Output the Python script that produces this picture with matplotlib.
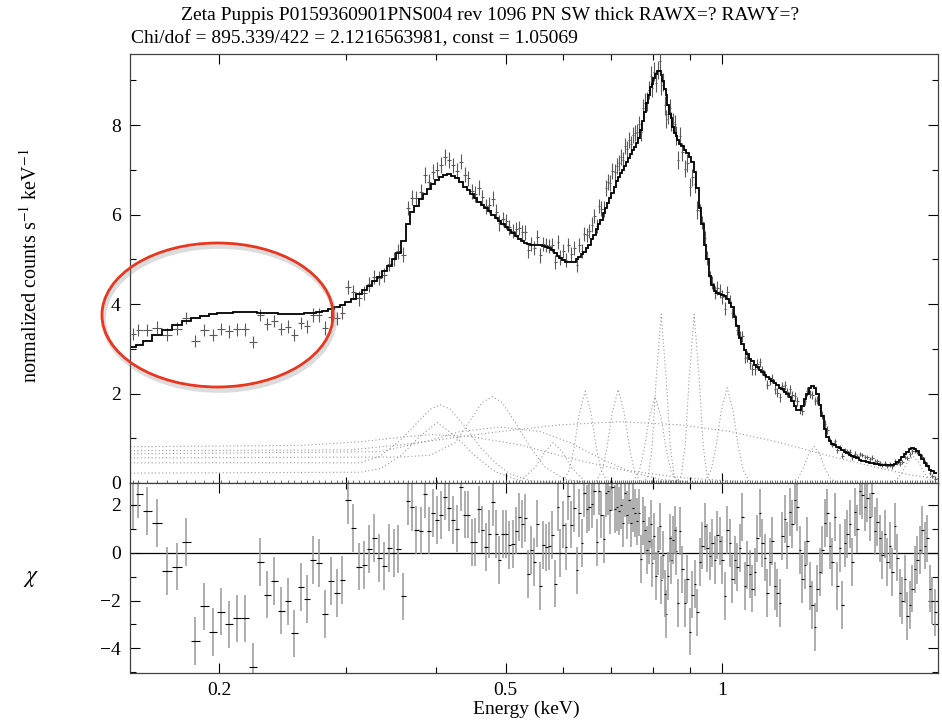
import numpy as np
import matplotlib
matplotlib.use("Agg")
import matplotlib.pyplot as plt
from matplotlib.patches import Ellipse
from matplotlib.ticker import FixedLocator, NullFormatter, FuncFormatter, MultipleLocator

plt.rcParams["font.family"] = ["Liberation Serif", "DejaVu Serif"]
plt.rcParams["mathtext.fontset"] = "stix"

TITLE = "Zeta Puppis P0159360901PNS004 rev 1096 PN SW thick RAWX=? RAWY=?"
SUBTITLE = "Chi/dof = 895.339/422 = 2.1216563981, const = 1.05069"

# ── spectrum ─────────────────────────────────────────────────────────────────
# bin centre (keV), folded model (counts/s/keV), residual (chi), 1-sigma error
energy_soft = [0.1518, 0.1543, 0.1588, 0.1639, 0.1693, 0.1748, 0.1799, 0.1852, 0.1906, 0.1962,
               0.2012, 0.2064, 0.2119, 0.2173, 0.2229, 0.2280, 0.2332, 0.2384, 0.2438, 0.2493,
               0.2541, 0.2599, 0.2649, 0.2701, 0.2753, 0.2807, 0.2860, 0.2916, 0.2963, 0.3021,
               0.3069, 0.3129, 0.3179, 0.3231, 0.3283, 0.3335, 0.3389, 0.3444, 0.3499, 0.3544,
               0.3601, 0.3659]
model_soft = [3.05, 3.08, 3.18, 3.30, 3.42, 3.53, 3.62, 3.69, 3.74, 3.77,
              3.79, 3.81, 3.82, 3.82, 3.82, 3.81, 3.80, 3.79, 3.78, 3.78,
              3.78, 3.78, 3.79, 3.80, 3.82, 3.85, 3.89, 3.93, 3.98, 4.05,
              4.12, 4.22, 4.32, 4.41, 4.51, 4.61, 4.73, 4.86, 5.00, 5.15,
              5.40, 5.80]
chi_soft = [2.00, 2.46, 1.75, 1.25, -0.75, -0.58, 0.46, -3.71, -2.25, -3.33,
            -2.46, -3.00, -2.75, -2.75, -4.79, -0.38, -1.75, -1.17, -2.42, -2.04,
            -3.38, -1.42, -1.92, -0.29, -0.42, -2.58, -1.17, -1.67, -1.13, 2.21,
            1.04, -0.58, -0.50, 0.17, 0.63, -0.21, -0.54, 0.21, 0.00, 0.17,
            -1.83, 2.17]
sigma_soft = [0.14] * 22 + [0.15] * 9 + [0.16] * 11

energy_mid = [0.3707, 0.3754, 0.3815, 0.3864, 0.3913, 0.3964, 0.4014, 0.4067, 0.4120, 0.4173,
              0.4226, 0.4281, 0.4336, 0.4392, 0.4433, 0.4491, 0.4534, 0.4592, 0.4637, 0.4696,
              0.4742, 0.4803, 0.4849, 0.4895, 0.4958, 0.5006, 0.5055, 0.5120, 0.5169, 0.5219,
              0.5270, 0.5321, 0.5371, 0.5423, 0.5476, 0.5528, 0.5582, 0.5636, 0.5690, 0.5745,
              0.5800, 0.5856, 0.5913, 0.5951, 0.6008, 0.6066, 0.6105, 0.6164, 0.6223, 0.6283,
              0.6324, 0.6385, 0.6426, 0.6488, 0.6529, 0.6592, 0.6634, 0.6698, 0.6741, 0.6785,
              0.6850, 0.6894, 0.6938, 0.6983, 0.7028, 0.7096, 0.7141, 0.7187, 0.7233, 0.7279,
              0.7326, 0.7373, 0.7420, 0.7468, 0.7516, 0.7564, 0.7612, 0.7661, 0.7711, 0.7760,
              0.7810, 0.7860, 0.7911, 0.7961, 0.7987, 0.8038, 0.8090, 0.8142, 0.8194, 0.8220,
              0.8273, 0.8326, 0.8352, 0.8406, 0.8460, 0.8487, 0.8541, 0.8596, 0.8624, 0.8679]
model_mid = [6.05, 6.20, 6.35, 6.47, 6.58, 6.68, 6.77, 6.84, 6.89, 6.90,
             6.87, 6.81, 6.72, 6.62, 6.54, 6.45, 6.38, 6.29, 6.22, 6.14,
             6.08, 6.00, 5.93, 5.86, 5.78, 5.72, 5.66, 5.58, 5.52, 5.46,
             5.41, 5.37, 5.34, 5.32, 5.31, 5.31, 5.31, 5.30, 5.28, 5.25,
             5.20, 5.14, 5.08, 5.04, 4.99, 4.95, 4.93, 4.93, 4.95, 5.00,
             5.05, 5.12, 5.17, 5.25, 5.32, 5.45, 5.55, 5.68, 5.78, 5.88,
             6.03, 6.15, 6.27, 6.38, 6.48, 6.62, 6.74, 6.84, 6.92, 7.00,
             7.08, 7.18, 7.27, 7.36, 7.45, 7.52, 7.60, 7.72, 7.90, 8.10,
             8.30, 8.50, 8.68, 8.85, 8.93, 9.05, 9.15, 9.22, 9.20, 9.13,
             8.98, 8.80, 8.68, 8.45, 8.25, 8.15, 7.95, 7.82, 7.76, 7.66]
chi_mid = [1.93, 0.96, 0.93, 2.44, 0.93, 1.65, 1.38, 1.57, 2.35, 1.89,
           1.38, 1.01, 2.74, 1.60, 1.60, 0.43, 0.46, 1.81, 0.97, 0.24,
           0.79, 2.11, 0.78, -0.29, 0.78, 0.79, 0.33, 0.35, 0.93, 1.49,
           1.19, 1.44, -0.88, 0.13, -0.38, 1.22, -1.40, 0.31, 0.22, 0.29,
           0.75, -1.29, 1.90, -0.01, 1.18, 0.26, 2.39, 1.18, 1.86, -0.74,
           1.65, 0.40, 2.49, 1.82, 1.93, 2.04, 2.60, 0.43, 2.60, 1.60,
           0.57, 2.49, 2.60, 1.79, 2.76, 1.82, 1.90, 1.76, 2.00, 1.26,
           2.49, 1.58, 2.21, 1.24, 1.86, 1.65, 1.31, 1.68, -0.26, 1.32,
           0.96, 0.13, 0.51, 1.21, -0.43, 0.68, -0.99, 0.06, 1.10, -1.13,
           -0.08, -1.71, -2.58, -0.99, 0.61, -0.29, 0.54, 0.96, 0.06, -2.10]
sigma_mid = [0.17] * 24 + [0.16] * 36 + [0.18] * 18 + [0.21] * 22

energy_hard = [0.8735, 0.8791, 0.8876, 0.8933, 0.9019, 0.9077, 0.9164, 0.9223, 0.9312, 0.9372,
               0.9462, 0.9523, 0.9614, 0.9676, 0.9769, 0.9832, 0.9927, 0.9991, 1.0087, 1.0152,
               1.0249, 1.0315, 1.0414, 1.0481, 1.0583, 1.0651, 1.0753, 1.0822, 1.0926, 1.0996,
               1.1102, 1.1173, 1.1282, 1.1354, 1.1463, 1.1537, 1.1648, 1.1723, 1.1836, 1.1912,
               1.2026, 1.2103, 1.2220, 1.2298, 1.2417, 1.2497, 1.2617, 1.2698, 1.2820, 1.2902,
               1.3026, 1.3110, 1.3237, 1.3322, 1.3450, 1.3536, 1.3667, 1.3754, 1.3887, 1.3976,
               1.4111, 1.4201, 1.4338, 1.4430, 1.4570, 1.4663, 1.4804, 1.4899, 1.5043, 1.5139,
               1.5285, 1.5383, 1.5532, 1.5631, 1.5782, 1.5883, 1.6036, 1.6139, 1.6294, 1.6398,
               1.6558, 1.6664, 1.6824, 1.6932, 1.7096, 1.7205, 1.7371, 1.7482, 1.7651, 1.7764,
               1.7935, 1.8050, 1.8225, 1.8341, 1.8519, 1.8637, 1.8817, 1.8938, 1.9121, 1.9243,
               1.9428, 1.9553, 1.9740]
model_hard = [7.58, 7.53, 7.45, 7.38, 7.28, 7.18, 6.95, 6.60, 6.15, 5.78,
              5.32, 5.00, 4.62, 4.42, 4.30, 4.25, 4.22, 4.20, 4.17, 4.12,
              4.03, 3.93, 3.70, 3.50, 3.25, 3.10, 2.97, 2.88, 2.78, 2.72,
              2.64, 2.59, 2.53, 2.48, 2.42, 2.37, 2.32, 2.28, 2.23, 2.19,
              2.13, 2.09, 2.04, 2.00, 1.92, 1.84, 1.72, 1.64, 1.64, 1.72,
              1.88, 2.00, 2.12, 2.17, 2.12, 2.00, 1.75, 1.50, 1.20, 1.03,
              0.93, 0.88, 0.84, 0.81, 0.78, 0.74, 0.70, 0.66, 0.62, 0.60,
              0.57, 0.55, 0.52, 0.50, 0.48, 0.47, 0.45, 0.44, 0.43, 0.42,
              0.41, 0.41, 0.40, 0.40, 0.40, 0.41, 0.43, 0.46, 0.52, 0.57,
              0.64, 0.69, 0.75, 0.78, 0.76, 0.71, 0.62, 0.54, 0.44, 0.38,
              0.30, 0.26, 0.22]
chi_hard = [0.90, -0.70, -2.10, -1.10, -3.30, -1.75, -1.30, -2.50, -0.40, 0.30,
            1.10, 0.20, -0.15, 0.40, -0.30, 0.75, 0.50, -0.30, -1.80, 0.95,
            0.40, -1.10, -0.30, -0.60, 0.20, 1.50, -1.40, -0.50, -0.90, -1.50,
            -0.80, 0.60, 1.65, 0.40, -0.20, -1.70, -0.40, 0.50, -1.40, -1.70,
            -2.10, 0.70, 1.40, 0.30, 1.70, 1.20, 2.20, 1.90, 0.10, -1.10,
            -0.50, 0.50, -1.40, -2.20, -3.10, -1.50, -0.80, 0.10, 1.25, 1.65,
            0.30, -0.40, 1.50, -1.40, 0.20, -2.20, 0.40, 0.80, 1.20, -0.40,
            1.70, 1.00, 2.60, 2.40, 1.90, 2.30, 1.50, 2.50, 0.90, 1.30,
            0.60, -0.10, 0.80, -0.40, 0.30, -0.80, 1.10, -0.20, -1.70, -2.00,
            -1.10, -2.65, -2.20, -1.50, -0.70, -0.30, 0.10, 0.96, 0.30, 0.60,
            -1.50, -2.00, -2.50]
sigma_hard = [0.20] * 8 + [0.15] * 12 + [0.12] * 12 + [0.10] * 18 + [0.09] * 10 + [0.06] * 10 + [0.05] * 33

# ── dotted model components (keV, counts/s/keV) ─────────────────────────────
comp_shelf_a = ([0.1504, 0.3139, 0.3346, 0.3567, 0.3742, 0.3926, 0.4054, 0.4186, 0.4392, 0.4607, 0.4834, 0.5071, 0.5406, 0.5951],
                [0.45, 0.45, 0.60, 0.95, 1.30, 1.65, 1.75, 1.65, 1.25, 0.80, 0.45, 0.20, 0.05, 0.00])
comp_shelf_b = ([0.1504, 0.3139, 0.3346, 0.3567, 0.3803, 0.4014, 0.4253, 0.4534, 0.4834, 0.5236],
                [0.22, 0.24, 0.32, 0.60, 1.05, 1.35, 1.05, 0.60, 0.25, 0.05])
comp_shelf_c = ([0.1504, 0.3567, 0.3926, 0.4253, 0.4462, 0.4637, 0.4788, 0.4942, 0.5153, 0.5406, 0.5672, 0.6047, 0.6550],
                [0.56, 0.58, 0.62, 0.90, 1.40, 1.80, 1.93, 1.80, 1.35, 0.80, 0.35, 0.08, 0.00])
comp_shelf_d = ([0.1504, 0.3346, 0.3926, 0.4322, 0.4911, 0.5582, 0.6144, 0.6763, 0.7444, 0.8194, 0.9312],
                [0.65, 0.70, 0.95, 1.15, 1.25, 1.15, 0.90, 0.55, 0.25, 0.08, 0.00])
comp_broad = ([0.1504, 0.3040, 0.3567, 0.4186, 0.4911, 0.5951, 0.7233, 0.8735, 1.0249, 1.2026, 1.4111, 1.6036, 1.8225, 1.9930],
              [0.72, 0.74, 0.85, 1.00, 1.15, 1.30, 1.37, 1.30, 1.15, 0.90, 0.60, 0.38, 0.18, 0.10])
comp_shelf_e = ([0.1504, 0.2591, 0.3139, 0.3567, 0.3926, 0.4462, 0.5236, 0.6144, 0.7210, 0.8735, 1.0583],
                [0.81, 0.84, 0.92, 1.02, 1.08, 1.04, 0.85, 0.55, 0.30, 0.12, 0.03])
comp_o7 = ([0.5236, 0.5493, 0.5672, 0.5819, 0.5989, 0.6164, 0.6426],
           [0.05, 0.35, 0.70, 0.90, 0.70, 0.35, 0.05])
comp_o8 = ([0.6008, 0.6124, 0.6223, 0.6324, 0.6447, 0.6571, 0.6676, 0.6785, 0.6916],
           [0.04, 0.28, 0.80, 1.54, 2.05, 1.54, 0.80, 0.28, 0.04])
comp_fe_a = ([0.6676, 0.6806, 0.6916, 0.7028, 0.7164, 0.7302, 0.7420, 0.7540, 0.7686],
             [0.04, 0.28, 0.82, 1.57, 2.09, 1.57, 0.82, 0.28, 0.04])
comp_fe_b = ([0.7516, 0.7661, 0.7785, 0.7911, 0.8064, 0.8220, 0.8352, 0.8487, 0.8651],
             [0.04, 0.26, 0.75, 1.45, 1.93, 1.45, 0.75, 0.26, 0.04])
comp_fe_c = ([0.7760, 0.7886, 0.7987, 0.8090, 0.8220, 0.8352, 0.8460, 0.8569, 0.8707],
             [0.00, 0.15, 0.83, 2.34, 3.77, 2.34, 0.83, 0.15, 0.00])
comp_ne9 = ([0.8624, 0.8763, 0.8876, 0.8990, 0.9135, 0.9282, 0.9402, 0.9523, 0.9676],
            [0.00, 0.15, 0.83, 2.34, 3.77, 2.34, 0.83, 0.15, 0.00])
comp_ne10 = ([0.9462, 0.9645, 0.9801, 0.9959, 1.0152, 1.0348, 1.0515, 1.0685, 1.0891],
             [0.04, 0.29, 0.83, 1.60, 2.13, 1.60, 0.83, 0.29, 0.04])
comp_mg11 = ([1.2497, 1.2738, 1.2943, 1.3153, 1.3407, 1.3667, 1.3887, 1.4111, 1.4384],
             [0.02, 0.11, 0.32, 0.62, 0.82, 0.62, 0.32, 0.11, 0.02])
comp_si13 = ([1.7151, 1.7482, 1.7764, 1.8050, 1.8400, 1.8757, 1.9060, 1.9366, 1.9740],
             [0.01, 0.08, 0.23, 0.45, 0.60, 0.45, 0.23, 0.08, 0.01])
components = [comp_shelf_a, comp_shelf_b, comp_shelf_c, comp_shelf_d, comp_broad, comp_shelf_e,
              comp_o7, comp_o8, comp_fe_a, comp_fe_b, comp_fe_c, comp_ne9, comp_ne10,
              comp_mg11, comp_si13]

# ── assemble ─────────────────────────────────────────────────────────────────
energy = np.array(energy_soft + energy_mid + energy_hard)
model = np.array(model_soft + model_mid + model_hard)
chi = np.array(chi_soft + chi_mid + chi_hard)
sigma = np.array(sigma_soft + sigma_mid + sigma_hard)
rate = model + chi * sigma
bkg_rate = np.zeros_like(energy)  # background spectrum sits at zero in every bin

mid = np.sqrt(energy[:-1] * energy[1:])
edges = np.concatenate([[energy[0] ** 2 / mid[0]], mid, [energy[-1] ** 2 / mid[-1]]])
xerr = np.vstack([energy - edges[:-1], edges[1:] - energy])

# ── figure ───────────────────────────────────────────────────────────────────
fig = plt.figure(figsize=(9.42, 7.23), dpi=100)
ax = fig.add_axes([0.1385, 0.3320, 0.8573, 0.5933])
axr = fig.add_axes([0.1385, 0.0696, 0.8573, 0.2624], sharex=ax)

for e, y in components:
    ax.plot(e, y, ls=(0, (1, 2.2)), color="0.6", lw=0.8, zorder=1)

ax.errorbar(energy, bkg_rate, yerr=0.07, fmt="none", ecolor="0.35", elinewidth=0.6,
            clip_on=False, zorder=2)
ax.errorbar(energy, rate, xerr=xerr, yerr=sigma, fmt="none", ecolor="0.35",
            elinewidth=0.8, zorder=3)
ax.stairs(model, edges, baseline=None, color="black", lw=1.3, zorder=4)

ax.add_patch(Ellipse((0.1098, 0.3836), 0.2862, 0.3357, transform=ax.transAxes,
                     fill=False, ec="0.55", lw=3.5, alpha=0.3, clip_on=False, zorder=5))
ax.add_patch(Ellipse((0.1078, 0.3916), 0.2862, 0.3357, transform=ax.transAxes,
                     fill=False, ec="#e8361f", lw=2.0, clip_on=False, zorder=6))

# residuals
axr.axhline(0, color="black", lw=0.9, zorder=1)
axr.errorbar(energy, chi, yerr=1.0, fmt="none", ecolor="0.6", elinewidth=1.1, zorder=2)
axr.errorbar(energy, chi, xerr=xerr, fmt="none", ecolor="black", elinewidth=0.8, zorder=3)

for a in (ax, axr):
    a.set_xscale("log")
    a.set_xlim(0.1505, 1.993)
    a.xaxis.set_major_locator(FixedLocator([0.2, 0.5, 1.0, 2.0]))
    a.xaxis.set_minor_locator(FixedLocator([0.3, 0.4, 0.6, 0.7, 0.8, 0.9]))
    a.xaxis.set_minor_formatter(NullFormatter())
    a.xaxis.set_major_formatter(FuncFormatter(lambda v, p: f"{v:g}"))
    a.yaxis.set_major_locator(MultipleLocator(2))
    a.yaxis.set_minor_locator(MultipleLocator(1))
    a.tick_params(which="both", direction="in", top=True, right=True, labelsize=14, pad=7)
    a.tick_params(which="major", length=7, width=0.8)
    a.tick_params(which="minor", length=4, width=0.8)
    for s in a.spines.values():
        s.set_linewidth(0.9)
        s.set_color("0.25")

ax.set_ylim(0, 9.59)
axr.set_ylim(-5.02, 2.92)
ax.tick_params(labelbottom=False)

fig.text(0.52, 0.978, TITLE, ha="center", va="center", fontsize=14)
fig.text(0.139, 0.947, SUBTITLE, ha="left", va="center", fontsize=14)
fig.text(0.032, 0.633, r"normalized counts s$^{-1}$ keV$^{-1}$", rotation=90,
         ha="center", va="center", fontsize=14.5)
fig.text(0.033, 0.200, r"$\chi$", ha="center", va="center", fontsize=17)
fig.text(0.559, 0.019, "Energy (keV)", ha="center", va="center", fontsize=14)

fig.savefig("out.png", dpi=100)
